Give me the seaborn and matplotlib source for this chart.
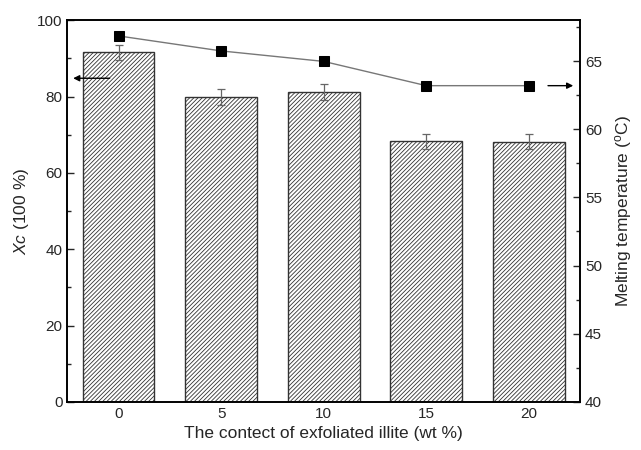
import pandas as pd
import seaborn as sns
import matplotlib.pyplot as plt

# =========================
# DATA
# =========================
content = [0, 5, 10, 15, 20]
xc = [91.6, 79.9, 81.2, 68.3, 68.2]
xc_err = [2.0, 2.0, 2.0, 2.0, 2.0]
tm = [66.85, 65.75, 64.98, 63.2, 63.2]

df = pd.DataFrame({"content": content, "xc": xc, "tm": tm})

# =========================
# PLOT
# =========================
sns.set_style("ticks")
plt.rcParams["font.family"] = ["Liberation Sans", "DejaVu Sans"]
plt.rcParams["mathtext.fontset"] = "custom"
plt.rcParams["mathtext.rm"] = "Liberation Sans"
plt.rcParams["mathtext.it"] = "Liberation Sans:italic"
plt.rcParams["hatch.color"] = "#9a9a9a"
plt.rcParams["hatch.linewidth"] = 0.6

fig, ax = plt.subplots(figsize=(6.41, 4.5), dpi=100)
fig.subplots_adjust(left=0.105, right=0.905, top=0.955, bottom=0.107)

sns.barplot(data=df, x="content", y="xc", native_scale=True, width=0.7,
            color="white", edgecolor="#333333", linewidth=1.0, ax=ax)
for p in ax.patches:
    p.set_hatch("////////")

ax.errorbar(content, xc, yerr=xc_err, fmt="none", ecolor="#666666",
            elinewidth=0.9, capsize=3, capthick=0.9)

ax.set_xlim(-2.5, 22.5)
ax.set_ylim(0, 100)
ax.set_xticks(content)
ax.set_yticks(range(0, 101, 20))
ax.set_yticks(range(10, 100, 20), minor=True)
ax.set_xlabel("The contect of exfoliated illite (wt %)", fontsize=12.5)
ax.set_ylabel(r"$Xc$ (100 %)", fontsize=12.5)
ax.tick_params(direction="in", labelsize=11, length=5, width=1)
ax.tick_params(which="minor", direction="in", length=3, width=1)
ax.tick_params(axis="x", top=False)

# --- second axis: melting temperature ---
ax2 = ax.twinx()
sns.lineplot(data=df, x="content", y="tm", color="#777777", linewidth=1.0,
             marker="s", markersize=7, markerfacecolor="black",
             markeredgecolor="black", ax=ax2)
ax2.set_ylim(40, 68)
ax2.set_yticks(range(40, 66, 5))
ax2.set_yticks([42.5, 47.5, 52.5, 57.5, 62.5, 67.5], minor=True)
ax2.set_ylabel(r"Melting temperature ($^{\mathrm{o}}$C)", fontsize=12.5,
               labelpad=8)
ax2.tick_params(direction="in", labelsize=11, length=5, width=1)
ax2.tick_params(which="minor", direction="in", length=3, width=1)

for a in (ax, ax2):
    for s in a.spines.values():
        s.set_linewidth(1.2)
        s.set_color("black")

# arrows pointing to the axes
ax.annotate("", xy=(-2.35, 84.8), xytext=(-0.3, 84.8),
            arrowprops=dict(arrowstyle="-|>", color="black", lw=1.0,
                            mutation_scale=9))
ax2.annotate("", xy=(22.3, 63.2), xytext=(20.8, 63.2),
             arrowprops=dict(arrowstyle="-|>", color="black", lw=1.0,
                             mutation_scale=9))

plt.savefig("out.png", dpi=100)
plt.close()
